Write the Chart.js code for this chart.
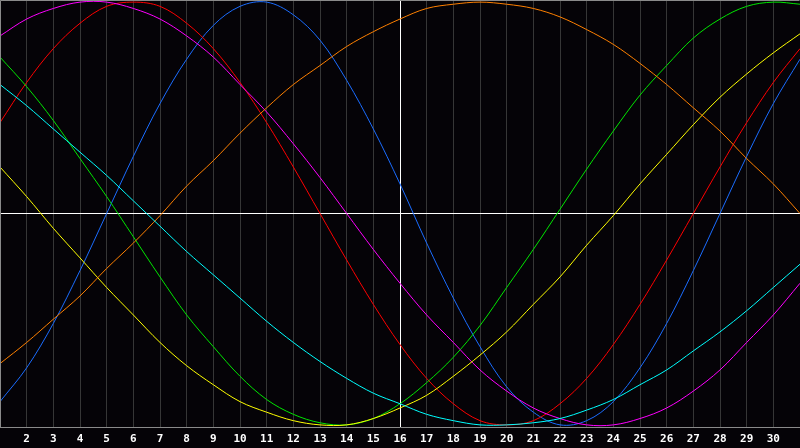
<!DOCTYPE html>
<html>
<head>
<meta charset="utf-8">
<script src="https://cdn.jsdelivr.net/npm/chart.js@4/dist/chart.umd.min.js"></script>
<style>
	html, body { margin: 0; padding: 0; background: #050307; }
	#wrap { width: 800px; height: 448px; }
</style>
</head>
<body>
<div id="wrap"><canvas id="chart"></canvas></div>
<script>
const days = [1, 2, 3, 4, 5, 6, 7, 8, 9, 10, 11, 12, 13, 14, 15, 16, 17, 18, 19, 20, 21, 22, 23, 24, 25, 26, 27, 28, 29, 30, 31];

// cycle values, one per day
const physical = [-0.89, -0.73, -0.52, -0.27, 0.0, 0.27, 0.52, 0.73, 0.89, 0.98, 1.0, 0.94, 0.82, 0.63, 0.4, 0.14, -0.14, -0.4, -0.63, -0.82, -0.94, -1.0, -0.98, -0.89, -0.73, -0.52, -0.27, 0.0, 0.27, 0.52, 0.73];
const emotional = [0.43, 0.62, 0.78, 0.9, 0.98, 1.0, 0.98, 0.9, 0.78, 0.62, 0.43, 0.22, 0.0, -0.22, -0.43, -0.62, -0.78, -0.9, -0.98, -1.0, -0.98, -0.9, -0.78, -0.62, -0.43, -0.22, 0.0, 0.22, 0.43, 0.62, 0.78];
const intellectual = [0.74, 0.6, 0.44, 0.26, 0.08, -0.11, -0.3, -0.48, -0.63, -0.77, -0.88, -0.95, -0.99, -1.0, -0.97, -0.9, -0.8, -0.68, -0.53, -0.35, -0.17, 0.02, 0.21, 0.39, 0.56, 0.7, 0.83, 0.92, 0.98, 1.0, 0.99];
const intuitive = [0.84, 0.92, 0.97, 1.0, 1.0, 0.97, 0.92, 0.84, 0.74, 0.61, 0.48, 0.33, 0.17, 0.0, -0.17, -0.33, -0.48, -0.61, -0.74, -0.84, -0.92, -0.97, -1.0, -1.0, -0.97, -0.92, -0.84, -0.74, -0.61, -0.48, -0.33];
const aesthetic = [0.22, 0.08, -0.07, -0.21, -0.35, -0.48, -0.61, -0.72, -0.81, -0.89, -0.94, -0.98, -1.0, -1.0, -0.97, -0.92, -0.86, -0.77, -0.67, -0.56, -0.43, -0.3, -0.15, -0.01, 0.14, 0.28, 0.42, 0.55, 0.66, 0.76, 0.85];
const awareness = [-0.71, -0.61, -0.5, -0.39, -0.26, -0.14, -0.01, 0.13, 0.25, 0.38, 0.5, 0.61, 0.7, 0.79, 0.86, 0.92, 0.97, 0.99, 1.0, 0.99, 0.97, 0.93, 0.87, 0.8, 0.71, 0.61, 0.5, 0.39, 0.26, 0.14, 0.0];
const spiritual = [0.61, 0.51, 0.4, 0.29, 0.18, 0.06, -0.06, -0.18, -0.29, -0.4, -0.51, -0.61, -0.7, -0.78, -0.85, -0.9, -0.95, -0.98, -1.0, -1.0, -0.99, -0.97, -0.93, -0.88, -0.81, -0.74, -0.65, -0.56, -0.46, -0.35, -0.24];

const todayIndex = 15;

const frame = {
	id: "frame",
	beforeDraw(chart) {
		const { ctx } = chart;
		ctx.save();
		ctx.fillStyle = "#050307";
		ctx.fillRect(0, 0, chart.width, chart.height);
		ctx.restore();
	},
	afterDraw(chart) {
		const { ctx, chartArea: a } = chart;
		ctx.save();
		ctx.strokeStyle = "#8a8a8a";
		ctx.lineWidth = 1;
		ctx.beginPath();
		ctx.moveTo(a.left + 0.5, a.bottom);
		ctx.lineTo(a.left + 0.5, a.top + 0.5);
		ctx.lineTo(a.right - 0.5, a.top + 0.5);
		ctx.stroke();
		ctx.restore();
	},
};

const line = (label, data, color) => ({
	label,
	data,
	borderColor: color,
	borderWidth: 1,
	pointRadius: 0,
	tension: 0.35,
	fill: false,
});

new Chart(document.querySelector("#chart"), {
	type: "line",
	data: {
		labels: days,
		datasets: [
			line("Spiritual", spiritual, "#00ffff"),
			line("Self-awareness", awareness, "#ff8000"),
			line("Aesthetic", aesthetic, "#ffff00"),
			line("Intuitive", intuitive, "#ff00ff"),
			line("Intellectual", intellectual, "#00e600"),
			line("Emotional", emotional, "#ff0000"),
			line("Physical", physical, "#1a6cff"),
		],
	},
	options: {
		responsive: true,
		maintainAspectRatio: false,
		animation: false,
		layout: { padding: 0 },
		plugins: {
			legend: { display: false },
			tooltip: { enabled: false },
		},
		scales: {
			x: {
				type: "category",
				offset: false,
				afterFit: (axis) => {
					axis.paddingLeft = 0;
					axis.paddingRight = 0;
					axis.height = 21;
				},
				grid: {
					color: (c) => (c.index === todayIndex ? "#ffffff" : "#363636"),
					drawTicks: false,
				},
				border: { color: "#8a8a8a" },
				ticks: {
					color: "#ffffff",
					autoSkip: false,
					maxRotation: 0,
					padding: 6,
					font: { family: "DejaVu Sans Mono", weight: "bold", size: 11 },
					callback: (v, i) => (i === 0 || i === days.length - 1 ? "" : days[i]),
				},
			},
			y: {
				min: -1.01,
				max: 1.01,
				afterFit: (axis) => {
					axis.width = 0;
				},
				afterBuildTicks: (axis) => {
					axis.ticks = [{ value: 0 }];
				},
				grid: { color: "#ffffff", drawTicks: false },
				border: { display: false },
				ticks: { display: false },
			},
		},
	},
	plugins: [frame],
});
</script>
</body>
</html>
